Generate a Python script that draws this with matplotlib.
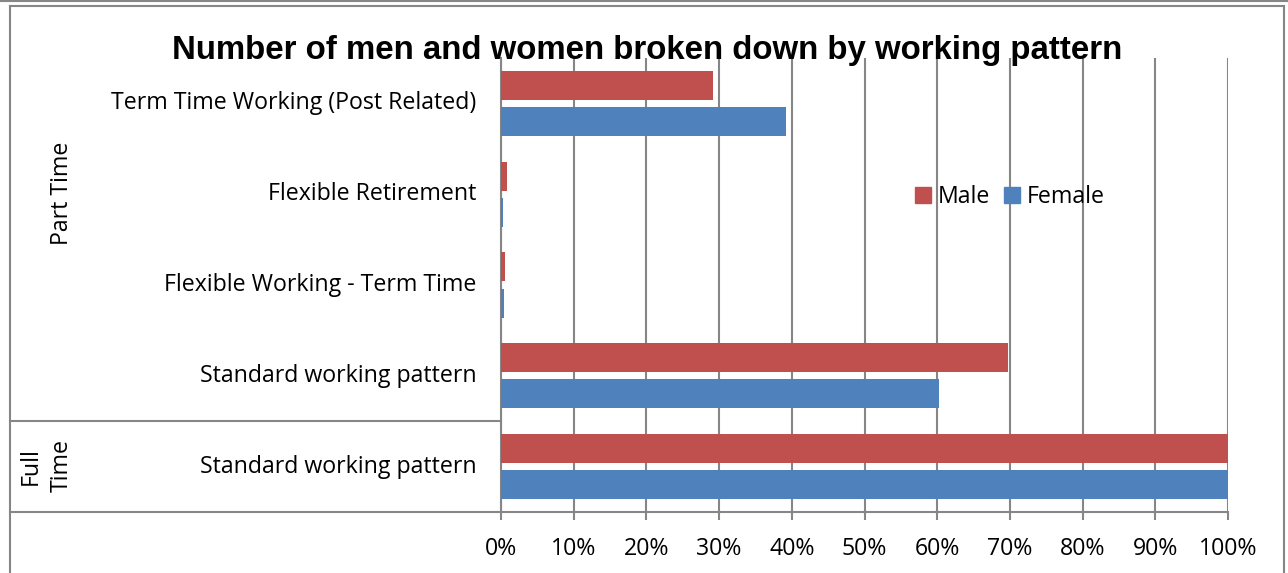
import matplotlib.pyplot as plt
from matplotlib.lines import Line2D
from matplotlib.patches import Patch
import numpy as np

# data (top to bottom, as in the chart)
categorias = ['Term Time Working (Post Related)', 'Flexible Retirement',
              'Flexible Working - Term Time', 'Standard working pattern',
              'Standard working pattern']
grupos = ['Part Time', 'Full\nTime']
male = [29.2, 0.8, 0.5, 69.7, 100]
female = [39.2, 0.3, 0.35, 60.2, 100]
ticks_x = [0, 10, 20, 30, 40, 50, 60, 70, 80, 90, 100]

rojo = '#C0504D'
azul = '#4F81BD'
gris = '#868686'
W, H = 1288, 573
fuente = ['Open Sans', 'DejaVu Sans']
tam = 16.7

plt.rcParams['font.family'] = fuente

fig = plt.figure(figsize=(12.88, 5.73), dpi=100)

def fx(px):
    return px / W

def fy(py):
    return 1 - py / H

ax = fig.add_axes([fx(501), fy(512), fx(1228) - fx(501), fy(58) - fy(512)])

y = np.arange(len(categorias))
alto = 0.32
ax.barh(y - 0.2, male, height=alto, color=rojo, label='Male', zorder=3)
ax.barh(y + 0.2, female, height=alto, color=azul, label='Female', zorder=3)

ax.set_xlim(0, 100)
ax.set_ylim(len(categorias) - 0.5, -0.5)
ax.set_xticks(ticks_x)
ax.set_xticklabels([f'{t}%' for t in ticks_x], fontsize=tam)
ax.tick_params(axis='x', length=6, width=1.5, color=gris, pad=12)
ax.set_yticks([])
ax.grid(axis='x', color=gris, linewidth=1.5, zorder=0)
for s in ['top', 'right']:
    ax.spines[s].set_visible(False)
for s in ['left', 'bottom']:
    ax.spines[s].set_color(gris)
    ax.spines[s].set_linewidth(1.5)
    ax.spines[s].set_zorder(2)

# etiquetas de categorias
for i, c in enumerate(categorias):
    ax.text(-0.034, i, c, transform=ax.get_yaxis_transform(), ha='right',
            va='center', fontsize=tam)

fig.text(fx(62), fy(193), grupos[0], rotation=90, ha='center', va='center', fontsize=tam)
fig.text(fx(46), fy(466), grupos[1], rotation=90, ha='center', va='center',
         fontsize=tam, linespacing=1.4)

# lineas del cuadro
lineas = [
    ((0, W), (1, 1)),
    ((10, 1284), (6, 6)),
    ((10, 10), (6, H)),
    ((1284, 1284), (6, H)),
    ((10, 501), (421, 421)),
    ((10, 501), (512, 512)),
]
for xs, ys in lineas:
    fig.add_artist(Line2D([fx(v) for v in xs], [fy(v) for v in ys], color=gris,
                          linewidth=1.5))

fig.text(fx(647), fy(51), 'Number of men and women broken down by working pattern',
         ha='center', va='center', fontsize=23.8, fontweight='bold',
         family=['Liberation Sans', 'DejaVu Sans'])

handles = [Patch(color=rojo), Patch(color=azul)]
ax.legend(handles, ['Male', 'Female'], loc='center', bbox_to_anchor=(0.70, 0.694),
          ncol=2, frameon=False, fontsize=tam, handlelength=0.7, handleheight=0.7,
          handletextpad=0.3, columnspacing=0.6)

fig.savefig('out.png', dpi=100)
